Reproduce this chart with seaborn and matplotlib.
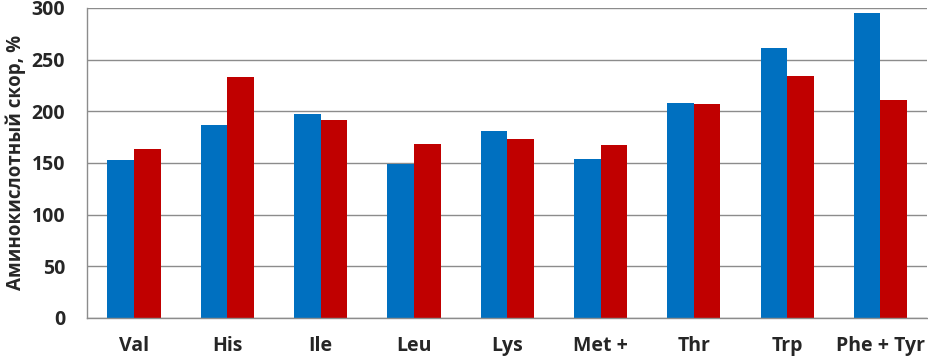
import numpy as np
import pandas as pd
import matplotlib
matplotlib.use("Agg")
import matplotlib.pyplot as plt
import seaborn as sns

# data
amino_acids = ["Val", "His", "Ile", "Leu", "Lys", "Met +", "Thr", "Trp", "Phe + Tyr"]
series_a = [153, 187, 197, 149, 181, 154, 208, 261, 295]
series_b = [163, 233, 192, 168, 173, 167, 207, 234, 211]
series_names = ["A", "B"]
yticks = [0, 50, 100, 150, 200, 250, 300]

COLOR_BLUE = "#0070C0"
COLOR_RED = "#C00000"

sns.set_theme(style="white")
plt.rcParams["font.family"] = ["Open Sans", "DejaVu Sans"]

df = pd.DataFrame({
    "acid": amino_acids * 2,
    "score": series_a + series_b,
    "series": [series_names[0]] * len(amino_acids) + [series_names[1]] * len(amino_acids),
})

fig = plt.figure(figsize=(9.29, 3.6), dpi=100)
ax = fig.add_axes([0.094, 0.117, 0.904, 0.861])

sns.barplot(data=df, x="acid", y="score", hue="series", order=amino_acids,
            palette=[COLOR_BLUE, COLOR_RED], width=0.57, gap=0, saturation=1,
            legend=False, ax=ax, linewidth=0)

ax.set_ylim(0, 300)
ax.set_xlim(-0.5, len(amino_acids) - 0.5)
ax.set_yticks(yticks)
ax.yaxis.grid(True, color="#8c8c8c", linewidth=1)
ax.set_axisbelow(True)

for side in ["top", "right"]:
    ax.spines[side].set_visible(False)
for side in ["left", "bottom"]:
    ax.spines[side].set_color("#8c8c8c")
    ax.spines[side].set_linewidth(1)

ax.set_xlabel("")
ax.set_ylabel("Аминокислотный скор, %", fontsize=13.5, fontweight="bold", labelpad=4)
ax.tick_params(axis="x", length=0, pad=13, labelsize=14)
ax.tick_params(axis="y", length=0, pad=16, labelsize=14)
for lab in ax.get_xticklabels() + ax.get_yticklabels():
    lab.set_fontweight("bold")

# boundary tick marks between categories
ax.set_xticks(np.arange(-0.5, len(amino_acids)), minor=True)
ax.tick_params(axis="x", which="minor", length=5, color="#8c8c8c", width=1, direction="out")

fig.savefig("out.png", dpi=100)
